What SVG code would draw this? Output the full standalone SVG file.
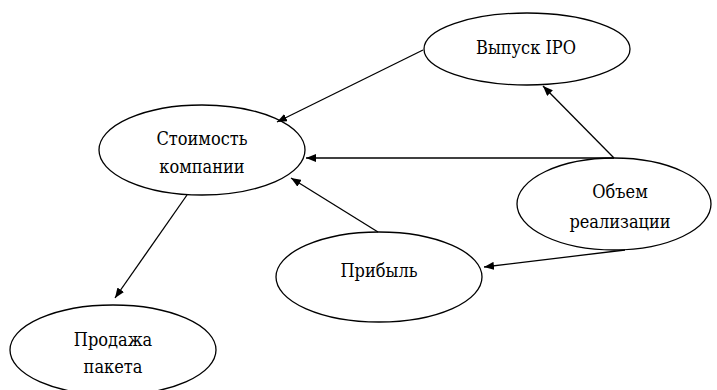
<svg xmlns="http://www.w3.org/2000/svg" width="717" height="390" viewBox="0 0 717 390">
<style>
.n{fill:#fff;stroke:#000;stroke-width:1.3}
.c{stroke:#000;stroke-width:1.3;fill:none;marker-end:url(#ah)}
</style>
<defs>
<marker id="ah" viewBox="0 0 10 8" refX="10" refY="4" markerWidth="10" markerHeight="8" markerUnits="userSpaceOnUse" orient="auto">
<path d="M0,0 L10,4 L0,8 z" fill="#000"/>
</marker>
</defs>
<rect width="717" height="390" fill="#fff"/>
<g font-family="DejaVu Serif Condensed, DejaVu Serif, serif" font-size="18" text-anchor="middle" fill="#000">
<g id="node-stoimost"><ellipse class="n" cx="202" cy="150" rx="103" ry="45"/><text x="202" y="145">Стоимость</text><text x="202" y="173">компании</text></g>
<g id="node-ipo"><ellipse class="n" cx="527" cy="49" rx="103" ry="36"/><text x="526" y="54">Выпуск IPO</text></g>
<g id="node-obem"><ellipse class="n" cx="614" cy="204" rx="97" ry="46"/><text x="620" y="198">Объем</text><text x="620" y="228">реализации</text></g>
<g id="node-pribyl"><ellipse class="n" cx="379" cy="277" rx="103" ry="45"/><text x="379" y="277">Прибыль</text></g>
<g id="node-prodazha"><ellipse class="n" cx="113" cy="350" rx="103" ry="45"/><text x="113" y="346">Продажа</text><text x="113" y="373">пакета</text></g>
</g>
<g id="connectors">
<line class="c" x1="423" y1="50" x2="277" y2="122"/>
<line class="c" x1="614" y1="158" x2="306" y2="158"/>
<line class="c" x1="614" y1="158" x2="543" y2="86"/>
<line class="c" x1="378" y1="232" x2="291" y2="178"/>
<line class="c" x1="625" y1="250" x2="484" y2="267"/>
<line class="c" x1="187" y1="195" x2="115" y2="298"/>
</g>
</svg>
